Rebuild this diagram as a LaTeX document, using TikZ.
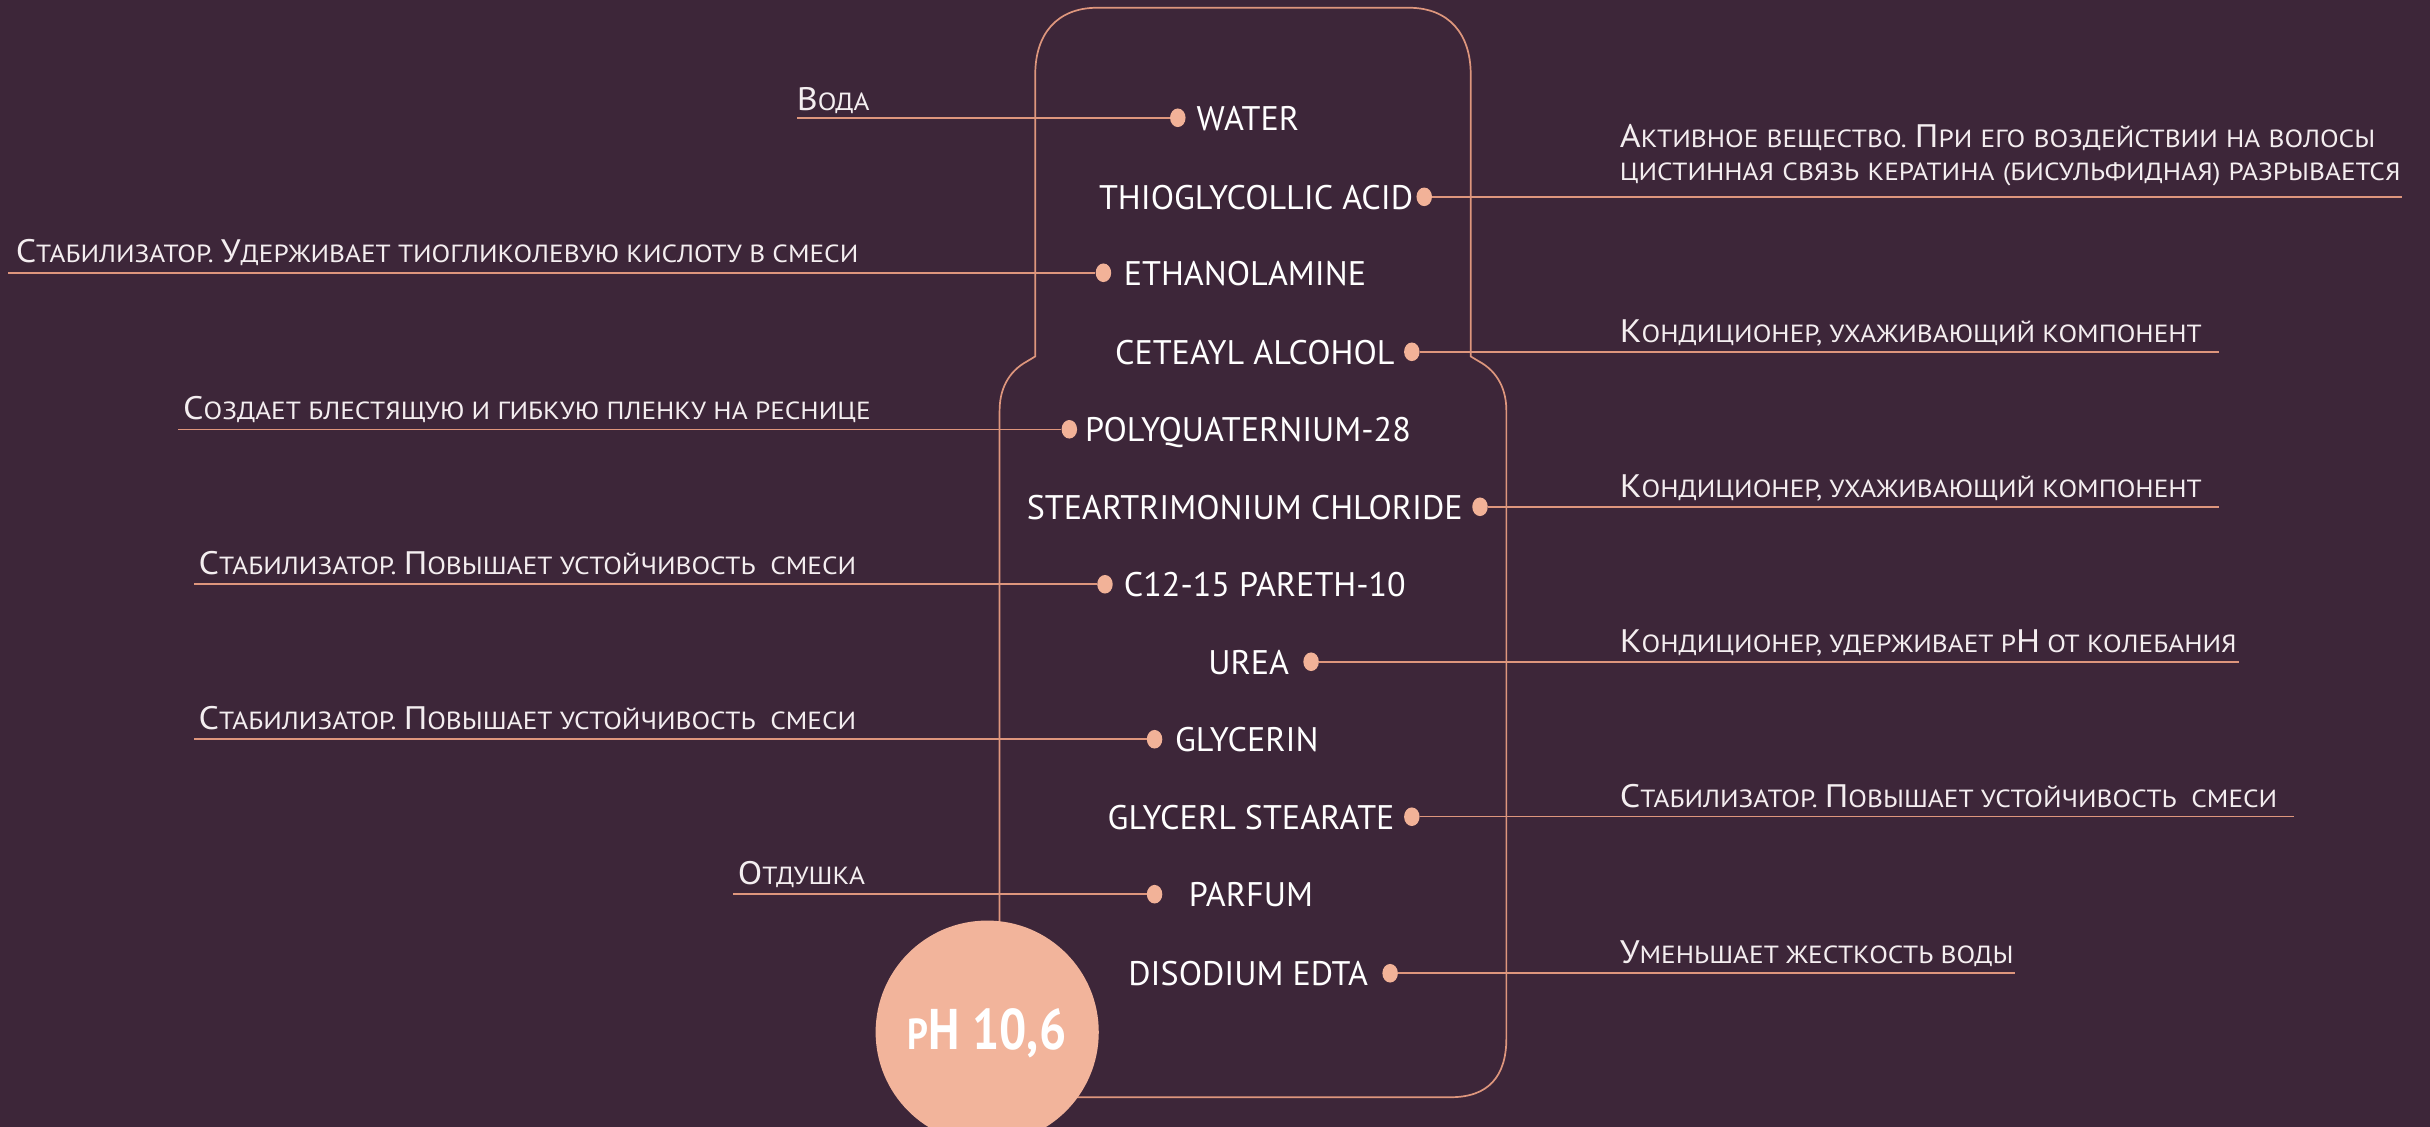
\documentclass[tikz,border=0pt]{standalone}
\usepackage{fontspec}
\usetikzlibrary{shapes.geometric}
\setmainfont{PT Sans}
\newfontfamily\ingf[FakeStretch=1.0]{PT Sans}
\newfontfamily\labf[FakeStretch=1.1]{PT Sans}
\newfontfamily\phf[FakeStretch=0.84]{PT Sans}
\definecolor{bgc}{HTML}{3D2639}
\definecolor{linec}{HTML}{DE967D}
\definecolor{dotc}{HTML}{F2B298}
\definecolor{circc}{HTML}{F2B49B}
\definecolor{labc}{HTML}{F4EEF0}
\newcommand\cp[1]{{\fontsize{21}{21}\selectfont #1}}
\tikzset{
  ing/.style={font=\ingf\fontsize{22}{22}\selectfont, text=white, inner sep=0pt},
  lab/.style={font=\labf\fontsize{16}{16}\selectfont, text=labc, inner sep=0pt, anchor=base west},
  conn/.style={draw=linec, line width=1pt},
  outline/.style={draw=linec, line width=1.1pt},
  dotm/.style={ellipse, fill=dotc, inner sep=0pt, minimum width=10pt, minimum height=12pt},
}
\begin{document}
\begin{tikzpicture}[x=1pt,y=-1pt]
\useasboundingbox (0,0) rectangle (1568,727.2);
\fill[bgc] (0,0) rectangle (1568,727.2);

% bottle outline
\draw[outline] (645,640) -- (645,265) .. controls (645,252) and (650,240) .. (663,233) -- (668,230)
  -- (668,48) .. controls (668,22) and (682,5) .. (708,5) -- (909,5)
  .. controls (935,5) and (949,22) .. (949,48) -- (949,230) -- (954,233)
  .. controls (967,240) and (972,252) .. (972,265) -- (972,670)
  .. controls (972,695) and (960,708) .. (936,708) -- (690,708);

% pH circle
\node[circle, fill=circc, minimum size=144pt, inner sep=0pt] (ph) at (637,666) {};
\node[text=white, font=\phf\bfseries\fontsize{37}{37}\selectfont, anchor=base, inner sep=0pt] (phtext) at (637,677.5) {{\fontsize{28}{28}\selectfont P}H 10,6};

% 1 WATER
\node[ing, anchor=base west] (i1) at (772,84) {WATER};
\node[dotm] (d1) at (760,76) {};
\coordinate (e1) at (514,76);
\draw[conn] (d1) -- (e1);
\node[lab] (l1) at (514,71) {\cp{В}ОДА};

% 2 THIOGLYCOLLIC ACID
\node[ing, anchor=base east] (i2) at (912,135) {THIOGLYCOLLIC ACID};
\node[dotm] (d2) at (919,127) {};
\coordinate (e2) at (1550,127);
\draw[conn] (d2) -- (e2);
\node[lab, align=left, text width=520pt] (l2) at (1045,95.5) {\cp{А}КТИВНОЕ ВЕЩЕСТВО. \cp{П}РИ ЕГО ВОЗДЕЙСТВИИ НА ВОЛОСЫ\\[5pt]ЦИСТИННАЯ СВЯЗЬ КЕРАТИНА (БИСУЛЬФИДНАЯ) РАЗРЫВАЕТСЯ};

% 3 ETHANOLAMINE
\node[ing, anchor=base west] (i3) at (725,184) {ETHANOLAMINE};
\node[dotm] (d3) at (712,176) {};
\coordinate (e3) at (5,176);
\draw[conn] (d3) -- (e3);
\node[lab] (l3) at (10,169.5) {\cp{С}ТАБИЛИЗАТОР. \cp{У}ДЕРЖИВАЕТ ТИОГЛИКОЛЕВУЮ КИСЛОТУ В СМЕСИ};

% 4 CETEAYL ALCOHOL
\node[ing, anchor=base east] (i4) at (900,235) {CETEAYL ALCOHOL};
\node[dotm] (d4) at (911,227) {};
\coordinate (e4) at (1432,227);
\draw[conn] (d4) -- (e4);
\node[lab] (l4) at (1045,221) {\cp{К}ОНДИЦИОНЕР, УХАЖИВАЮЩИЙ КОМПОНЕНТ};

% 5 POLYQUATERNIUM-28
\node[ing, anchor=base west] (i5) at (700,285) {POLYQUATERNIUM-28};
\node[dotm] (d5) at (690,277) {};
\coordinate (e5) at (115,277);
\draw[conn] (d5) -- (e5);
\node[lab] (l5) at (118,271) {\cp{С}ОЗДАЕТ БЛЕСТЯЩУЮ И ГИБКУЮ ПЛЕНКУ НА РЕСНИЦЕ};

% 6 STEARTRIMONIUM CHLORIDE
\node[ing, anchor=base east] (i6) at (944,335) {STEARTRIMONIUM CHLORIDE};
\node[dotm] (d6) at (955,327) {};
\coordinate (e6) at (1432,327);
\draw[conn] (d6) -- (e6);
\node[lab] (l6) at (1045,321) {\cp{К}ОНДИЦИОНЕР, УХАЖИВАЮЩИЙ КОМПОНЕНТ};

% 7 C12-15 PARETH-10
\node[ing, anchor=base west] (i7) at (725,385) {C12-15 PARETH-10};
\node[dotm] (d7) at (713,377) {};
\coordinate (e7) at (125,377);
\draw[conn] (d7) -- (e7);
\node[lab] (l7) at (128,371) {\cp{С}ТАБИЛИЗАТОР. \cp{П}ОВЫШАЕТ УСТОЙЧИВОСТЬ\ \ СМЕСИ};

% 8 UREA
\node[ing, anchor=base east] (i8) at (832,435) {UREA};
\node[dotm] (d8) at (846,427) {};
\coordinate (e8) at (1445,427);
\draw[conn] (d8) -- (e8);
\node[lab] (l8) at (1045,421) {\cp{К}ОНДИЦИОНЕР, УДЕРЖИВАЕТ Р\cp{Н} ОТ КОЛЕБАНИЯ};

% 9 GLYCERIN
\node[ing, anchor=base west] (i9) at (758,485) {GLYCERIN};
\node[dotm] (d9) at (745,477) {};
\coordinate (e9) at (125,477);
\draw[conn] (d9) -- (e9);
\node[lab] (l9) at (128,471) {\cp{С}ТАБИЛИЗАТОР. \cp{П}ОВЫШАЕТ УСТОЙЧИВОСТЬ\ \ СМЕСИ};

% 10 GLYCERL STEARATE
\node[ing, anchor=base east] (i10) at (900,535) {GLYCERL STEARATE};
\node[dotm] (d10) at (911,527) {};
\coordinate (e10) at (1480,527);
\draw[conn] (d10) -- (e10);
\node[lab] (l10) at (1045,521) {\cp{С}ТАБИЛИЗАТОР. \cp{П}ОВЫШАЕТ УСТОЙЧИВОСТЬ\ \ СМЕСИ};

% 11 PARFUM
\node[ing, anchor=base west] (i11) at (767,585) {PARFUM};
\node[dotm] (d11) at (745,577) {};
\coordinate (e11) at (473,577);
\draw[conn] (d11) -- (e11);
\node[lab] (l11) at (476,571) {\cp{О}ТДУШКА};

% 12 DISODIUM EDTA
\node[ing, anchor=base east] (i12) at (883,636) {DISODIUM EDTA};
\node[dotm] (d12) at (897,628) {};
\coordinate (e12) at (1300,628);
\draw[conn] (d12) -- (e12);
\node[lab] (l12) at (1045,622) {\cp{У}МЕНЬШАЕТ ЖЕСТКОСТЬ ВОДЫ};
\end{tikzpicture}
\end{document}
